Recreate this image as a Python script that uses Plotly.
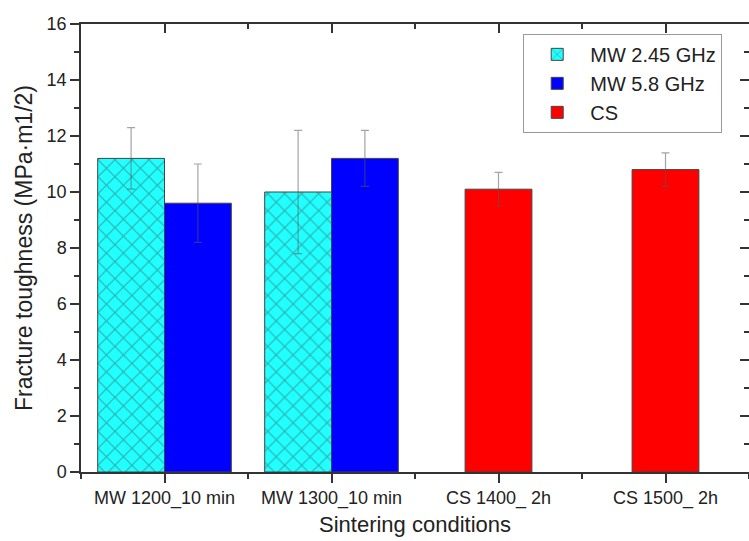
import plotly.graph_objects as go

categories = ["MW 1200_10 min", "MW 1300_10 min", "CS 1400_ 2h", "CS 1500_ 2h"]
mw245_values = [11.2, 10.0]
mw245_errors = [1.1, 2.2]
mw58_values = [9.6, 11.2]
mw58_errors = [1.4, 1.0]
cs_values = [10.1, 10.8]
cs_errors = [0.6, 0.6]
y_tick_values = [0, 2, 4, 6, 8, 10, 12, 14, 16]

pos = list(range(len(categories)))
mw_pos = pos[:2]
cs_pos = pos[2:]
minor_x = [p - 0.5 for p in pos] + [pos[-1] + 0.5]

FONT = "Liberation Sans, Arial, sans-serif"
AX = "#333333"
ERR = dict(type="data", color="rgba(90,90,90,0.55)", thickness=1.2, width=4)
OUTLINE = dict(color="#444444", width=1)

fig = go.Figure()
fig.add_trace(go.Bar(
    x=mw_pos, y=mw245_values, name="MW 2.45 GHz",
    error_y=dict(array=mw245_errors, **ERR),
    offset=-0.4, width=0.4,
    marker=dict(color="#22FFFF", line=OUTLINE,
                pattern=dict(shape="x", fgcolor="#2f6060", size=12, solidity=0.18)),
))
fig.add_trace(go.Bar(
    x=mw_pos, y=mw58_values, name="MW 5.8 GHz",
    error_y=dict(array=mw58_errors, **ERR),
    offset=0, width=0.4,
    marker=dict(color="#0000FF", line=OUTLINE),
))
fig.add_trace(go.Bar(
    x=cs_pos, y=cs_values, name="CS",
    error_y=dict(array=cs_errors, **ERR),
    offset=-0.2, width=0.4,
    marker=dict(color="#FF0000", line=OUTLINE),
))
# empty trace so that the mirrored frame axes (top / right) get drawn
fig.add_trace(go.Scatter(x=[None], y=[None], xaxis="x2", yaxis="y2",
                         showlegend=False, hoverinfo="skip"))

common_x = dict(range=[-0.5, 3.5], showgrid=False, zeroline=False, automargin=False,
                linecolor=AX, linewidth=1.5, showline=True,
                tickcolor=AX, tickwidth=1.5, ticklen=9,
                tickmode="array", tickvals=pos)
common_y = dict(range=[0, 16], showgrid=False, zeroline=False, automargin=False,
                linecolor=AX, linewidth=1.5,
                tickcolor=AX, tickwidth=1.5, ticklen=9,
                tickmode="array", tickvals=y_tick_values)

fig.update_layout(
    width=749, height=541,
    margin=dict(l=81, r=0, t=24, b=69),
    plot_bgcolor="white", paper_bgcolor="white",
    barmode="overlay",
    font=dict(family=FONT, color="#222222", size=18),
    xaxis=dict(**common_x, ticks="outside", ticktext=categories,
               minor=dict(tickmode="array", tickvals=minor_x, ticks="outside",
                          ticklen=5, tickcolor=AX, tickwidth=1.5),
               title=dict(text="Sintering conditions", font=dict(size=22), standoff=8)),
    xaxis2=dict(**common_x, overlaying="x", side="top", anchor="y2", ticks="inside",
                showticklabels=False,
                minor=dict(tickmode="array", tickvals=minor_x, ticks="inside",
                           ticklen=5, tickcolor=AX, tickwidth=1.5)),
    yaxis=dict(**common_y, showline=True, ticks="outside",
               minor=dict(dtick=1, ticks="outside", ticklen=5, tickcolor=AX, tickwidth=1.5),
               title=dict(text="Fracture toughness (MPa·m1/2)", font=dict(size=23), standoff=8)),
    yaxis2=dict(**common_y, overlaying="y", side="right", anchor="x2", ticks="inside",
                showline=False, showticklabels=False,
                minor=dict(dtick=1, ticks="inside", ticklen=5, tickcolor=AX, tickwidth=1.5)),
    legend=dict(x=0.662, y=0.978, xanchor="left", yanchor="top",
                bordercolor="#999999", borderwidth=1, bgcolor="white",
                font=dict(size=20), tracegroupgap=0, itemwidth=56),
    showlegend=True,
)

fig.write_html("out.html", config={"displayModeBar": False},
               post_script="document.body.style.margin='0';")
